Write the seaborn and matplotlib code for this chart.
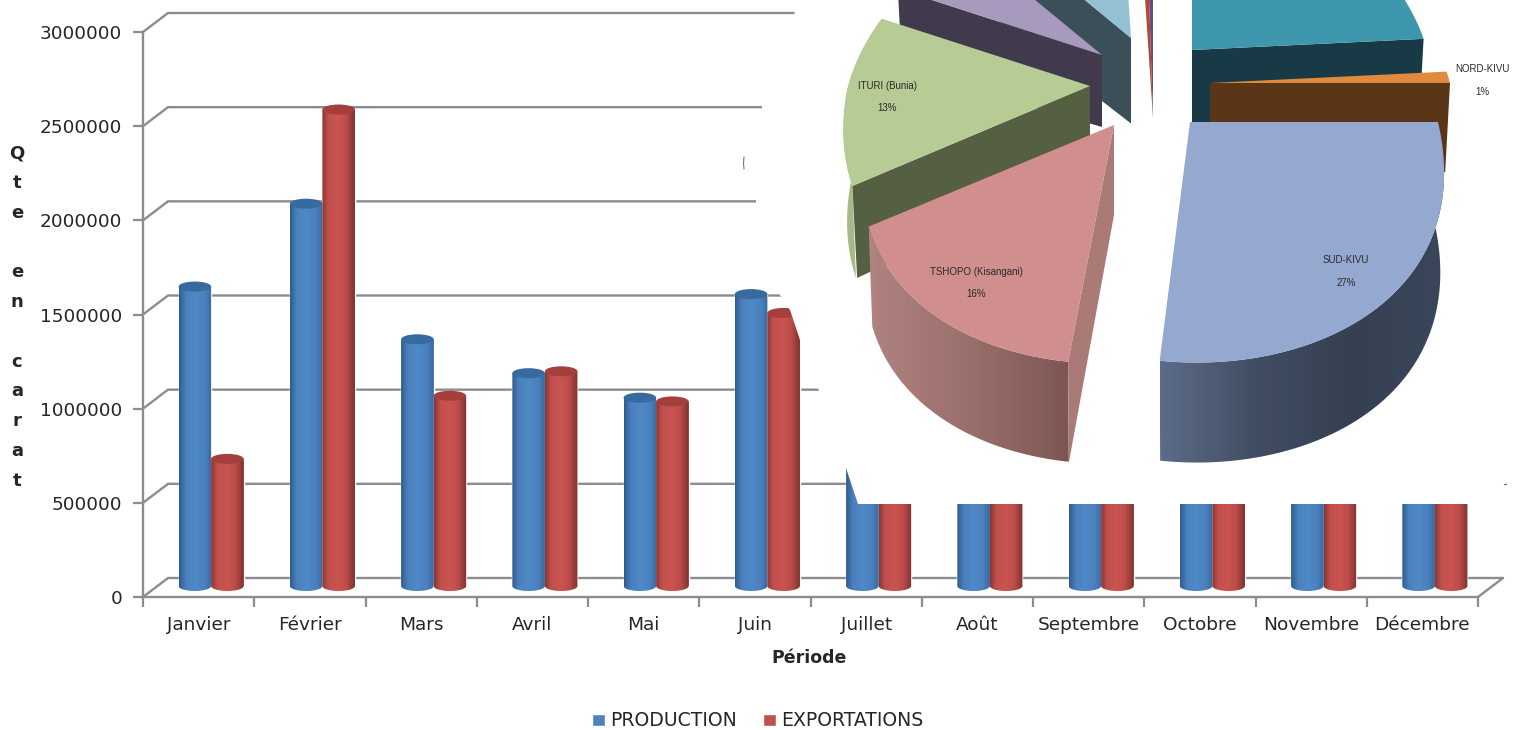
import numpy as np
import pandas as pd
import seaborn as sns
import matplotlib
matplotlib.use("Agg")
import matplotlib.pyplot as plt
from matplotlib.colors import LinearSegmentedColormap
from matplotlib.patches import Ellipse, PathPatch, Polygon
from matplotlib.path import Path

# ---------- data ----------
months = ["Janvier", "Février", "Mars", "Avril", "Mai", "Juin", "Juillet", "Août",
          "Septembre", "Octobre", "Novembre", "Décembre"]
production = [1590000, 2030000, 1310000, 1130000, 1000000, 1550000,
              1200000, 1250000, 1300000, 1250000, 1200000, 1300000]
exportations = [675000, 2530000, 1010000, 1140000, 980000, 1450000,
                1100000, 1200000, 1250000, 1200000, 1150000, 1250000]
y_ticks = [0, 500000, 1000000, 1500000, 2000000, 2500000, 3000000]
series_names = ["PRODUCTION", "EXPORTATIONS"]

pie_names = ["Autre A", "NORD-KIVU", "SUD-KIVU", "TSHOPO (Kisangani)", "ITURI (Bunia)",
             "Autre B", "Autre C", "Autre D", "Autre E"]
pie_shares = [24, 1, 27, 16, 13, 6, 12, 0.5, 0.5]

W, H = 1514, 730
GRAY = "#8c8c8c"
TXT = "#262626"

sns.set_style("white")
plt.rcParams["font.family"] = ["DejaVu Sans"]
fig = plt.figure(figsize=(W / 100, H / 100), dpi=100, facecolor="white")


def box(x0, y_bottom, w, h):
    return [x0 / W, (H - y_bottom) / H, w / W, h / H]


# ---------- base axes (walls, ticks, labels) ----------
AX_W, AX_H = 1335, 565
ax = fig.add_axes(box(143, 597, AX_W, AX_H))
df = pd.DataFrame({
    "mois": months * 2,
    "serie": [series_names[0]] * 12 + [series_names[1]] * 12,
    "val": production + exportations,
})
ax.set_xlim(-0.5, 11.5)
ax.set_ylim(0, 3000000)
px_x = 12 / AX_W
px_y = 3000000 / AX_H
ax.set_xticks(np.arange(-0.5, 12, 1))
ax.set_xticklabels([])
ax.set_xticks(np.arange(12), labels=months, minor=True)
ax.set_yticks(y_ticks, labels=[str(v) for v in y_ticks])
ax.tick_params(axis="y", which="major", left=True, length=7, width=1.6, color=GRAY,
               labelsize=13.3, labelcolor=TXT, pad=8)
ax.tick_params(axis="x", which="major", bottom=True, length=7, width=1.6, color=GRAY)
ax.tick_params(axis="x", which="minor", bottom=False, labelsize=13.3, labelcolor=TXT, pad=12)
for s in ["top", "right"]:
    ax.spines[s].set_visible(False)
for s in ["left", "bottom"]:
    ax.spines[s].set_color(GRAY)
    ax.spines[s].set_linewidth(1.7)

dx, dy = 25 * px_x, 19 * px_y
for v in y_ticks:
    ax.plot([-0.5, -0.5 + dx, 11.5 + dx], [v, v + dy, v + dy], color=GRAY, lw=1.7,
            clip_on=False, solid_joinstyle="miter", zorder=1)
ax.plot([11.5, 11.5 + dx], [0, dy], color=GRAY, lw=1.7, clip_on=False, zorder=1)

ax.set_xlabel("Période", fontsize=12.5, fontweight="bold", color=TXT, labelpad=8)
ax.xaxis.set_label_coords((809 - 143) / AX_W, -(658 - 597) / AX_H, transform=ax.transAxes)
ax.xaxis.label.set_va("center")
ax.set_ylabel("Q\nt\ne\n\ne\nn\n\nc\na\nr\na\nt", rotation=0, fontsize=13,
              fontweight="bold", color=TXT, linespacing=1.84, ha="center", va="center")
ax.yaxis.set_label_coords((17 - 143) / AX_W, (597 - 317) / AX_H, transform=ax.transAxes)

# ---------- bars, on a plane set half way into the depth ----------
bx = fig.add_axes(box(143 + 12.5, 597 - 11, AX_W, AX_H))
bx.patch.set_alpha(0)
sns.barplot(data=df, x="mois", y="val", hue="serie", order=months, hue_order=series_names,
            palette={series_names[0]: "#4f81bd", series_names[1]: "#c0504d"},
            width=0.585, gap=0, dodge=True, errorbar=None, ax=bx, saturation=1)
bx.set_xlim(-0.5, 11.5)
bx.set_ylim(0, 3000000)
bx.set_autoscale_on(False)
bx.axis("off")

grad = np.linspace(0, 1, 64).reshape(1, -1)
cm_b = LinearSegmentedColormap.from_list("b", [(0, "#2f5c8e"), (0.2, "#4a80bd"), (0.5, "#5089c8"),
                                               (0.8, "#4a80bd"), (1, "#3a6a9f")])
cm_r = LinearSegmentedColormap.from_list("r", [(0, "#8a3633"), (0.18, "#c0504d"), (0.5, "#cb5451"),
                                               (0.75, "#bb4c49"), (1, "#7f3230")])
caps = ["#376a9f", "#a43f3d"]
ell_h = 5 * px_y
for cont, cm, cap in zip(bx.containers, [cm_b, cm_r], caps):
    for bar in cont:
        x0, w, h = bar.get_x(), bar.get_width(), bar.get_height()
        t = np.linspace(np.pi, 2 * np.pi, 30)
        xs = x0 + w / 2 + w / 2 * np.cos(t)
        ys = ell_h * np.sin(t)
        verts = np.vstack([np.column_stack([xs, ys]), [[x0 + w, h], [x0, h], [xs[0], ys[0]]]])
        clip = PathPatch(Path(verts), transform=bx.transData, fc="none", ec="none")
        bx.add_patch(clip)
        im = bx.imshow(grad, extent=(x0, x0 + w, -ell_h, h), aspect="auto", cmap=cm, zorder=3)
        im.set_clip_box(fig.bbox)
        im.set_clip_path(clip)
        bx.add_patch(Ellipse((x0 + w / 2, h), w, 2 * ell_h, fc=cap, ec="none", zorder=4))

sns.move_legend(bx, "center", bbox_to_anchor=(758 / W, (H - 721) / H),
                bbox_transform=fig.transFigure, ncol=2, frameon=False, title=None,
                fontsize=13.6, handlelength=0.66, handleheight=0.66, handletextpad=0.3,
                columnspacing=1.4, labelcolor=TXT)

# ---------- overlay: pasted picture with white backing, then the 3D pie ----------
ov = fig.add_axes([0, 0, 1, 1])
ov.set_xlim(0, W)
ov.set_ylim(H, 0)
ov.axis("off")
ov.patch.set_alpha(0)
ov.set_autoscale_on(False)
ov.add_patch(Polygon([(797, 0), (794, 16), (762, 25), (762, 108), (756, 125), (756, 202),
                      (770, 280), (790, 310), (800, 340), (819, 391), (846, 468), (858, 504),
                      (W, 504), (W, 0)], fc="white", ec="none", zorder=1))
ov.plot([744, 743.5, 744], [157, 163, 169], color="#777777", lw=0.8, zorder=2)
ov.plot([1504, 1506], [484, 484], color="#777777", lw=1, zorder=2)

K = 0.2
BACK = 0.78


def proj(theta, cx, cy, R, lean):
    t = np.radians(theta)
    u, d = np.cos(t), -np.sin(t)
    x = cx + R * u * (1 + K * d) + lean * np.clip(d, 0, 1)
    y = cy + 0.97 * R * d * np.where(d > 0, 1, BACK)
    return x, y


def fill(pts, colors, z):
    pts = np.asarray(pts)
    if len(colors) == 1:
        ov.add_patch(Polygon(pts, fc=colors[0], ec="none", zorder=z))
        return
    clip = Polygon(pts, fc="none", ec="none", transform=ov.transData)
    ov.add_patch(clip)
    cm = LinearSegmentedColormap.from_list("g", colors)
    im = ov.imshow(grad, extent=(pts[:, 0].min(), pts[:, 0].max(), pts[:, 1].max(), pts[:, 1].min()),
                   aspect="auto", cmap=cm, zorder=z)
    im.set_clip_path(clip)


# layout of each exploded slice, same order as pie_names
apex = [(1192, 50), (1210, 83), (1190, 122), (1114, 125), (1090, 86),
        (1102, 55), (1131, 38), (1153, 118), (1153, 118)]
radii = [235, 240, 248, 246, 242, 237, 235, 180, 180]
leans = [0, 0, 7, -9, 0, 0, 0, 0, 0]
depth = [85, 89, 100, 100, 92, 80, 95, 0, 0]
top_col = ["#3f97ae", "#e08a3e", "#94a8d0", "#d08e8e", "#b7cc94", "#a899bf", "#93c1d3", "#b5482a", "#6a4a8c"]
wall_col = [["#183a46"], ["#5b3518"], ["#5c6b87", "#414d62", "#354052", "#3a465a"],
            ["#b08280", "#9a6f6c", "#7d5653"], ["#a6ba86"], ["#413a4c"], ["#3a4f58"], ["#000000"], ["#000000"]]
radial_col = ["#183a46", "#5b3518", None, "#a97a76", "#555f42", "#413a4c", "#3a4f58", None, None]
radial_side = ["end", "end", None, "start", "start", "start", "start", None, None]
draw_order = [6, 5, 7, 8, 0, 1, 4, 3, 2]

angles = 90 - 3.6 * np.cumsum([0] + pie_shares)
for i in draw_order:
    a0, a1 = angles[i], angles[i + 1]
    cx, cy = apex[i]
    R, D = radii[i], depth[i]
    z = 5 + draw_order.index(i) * 2
    th = np.linspace(a0, a1, 80)
    xs, ys = proj(th, cx, cy, R, leans[i])
    # outer curved wall: only the part that faces the viewer
    front = np.sin(np.radians(th)) < 0
    if D and front.sum() > 1:
        fx, fy = xs[front], ys[front]
        bxs = cx + (fx - cx) * 0.985
        bys = fy + D
        fill(np.vstack([np.column_stack([fx, fy]), np.column_stack([bxs, bys])[::-1]]),
             wall_col[i], z)
    # flat radial wall
    if radial_col[i]:
        ex, ey = (xs[0], ys[0]) if radial_side[i] == "start" else (xs[-1], ys[-1])
        fill([(cx, cy), (ex, ey), (cx + (ex - cx) * 0.98, ey + D), (cx, cy + 0.9 * D)],
             [radial_col[i]], z)
    fill(np.vstack([[(cx, cy)], np.column_stack([xs, ys])]), [top_col[i]], z + 1)

# ---------- pie labels ----------
lab_font = ["Liberation Sans"]
lab_size = 7.0
labels_at = {1: (1482, 69, 92), 2: (1346, 260, 283), 3: (976, 272, 294), 4: (887, 86, 108)}
for i, (lx, ly1, ly2) in labels_at.items():
    ov.text(lx, ly1, pie_names[i], family=lab_font, fontsize=lab_size, color="#2a2a2a",
            ha="center", va="center", zorder=40)
    ov.text(lx, ly2, f"{pie_shares[i]:.0f}%", family=lab_font, fontsize=lab_size, color="#2a2a2a",
            ha="center", va="center", zorder=40)
ov.text(960, -3, f"{pie_shares[5]:.0f}%", family=lab_font, fontsize=lab_size, color="#2a2a2a",
        ha="center", va="center", zorder=40)

fig.savefig("out.png", dpi=100, facecolor="white")
